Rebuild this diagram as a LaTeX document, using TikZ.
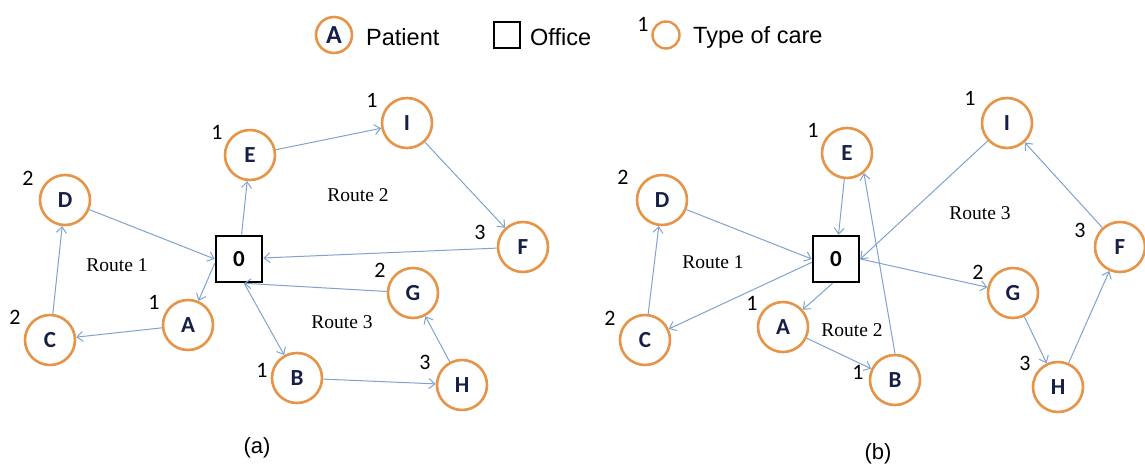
\documentclass[tikz,border=0pt]{standalone}
\usepackage{fontspec}
\setmainfont{Liberation Sans}
\newfontfamily\calib{Carlito}
\newfontfamily\timesf{Liberation Serif}
\usetikzlibrary{arrows.meta}
\definecolor{ring}{RGB}{230,148,72}
\definecolor{edgeblue}{RGB}{128,162,205}
\definecolor{navy}{RGB}{22,32,70}

\begin{document}
\begin{tikzpicture}[x=1pt,y=-1pt,
  site/.style={circle, draw=ring, line width=2.6pt, fill=white, minimum size=50pt,
    inner sep=0pt, text=navy, font=\calib\bfseries\fontsize{23}{23}\selectfont},
  office/.style={rectangle, draw=black, line width=2.6pt, fill=white, minimum size=46pt,
    inner sep=0pt, font=\calib\bfseries\fontsize{23}{23}\selectfont},
  care/.style={inner sep=0pt, font=\calib\fontsize{22}{22}\selectfont},
  route/.style={inner sep=0pt, font=\timesf\fontsize{19.5}{19.5}\selectfont},
  legend/.style={inner sep=0pt, font=\fontsize{23.5}{23.5}\selectfont},
  panel/.style={inner sep=0pt, font=\fontsize{22}{22}\selectfont},
  link/.style={draw=edgeblue, line width=1pt, -{Straight Barb[length=6pt,width=10pt]}}]

\useasboundingbox (0,0) rectangle (1145,470);

% ---------- legend ----------
\node[site, minimum size=36pt, font=\calib\bfseries\fontsize{26}{26}\selectfont] (legA) at (334,35) {A};
\node[legend, anchor=west] (legPatient) at (366,37) {Patient};
\node[office, minimum size=26pt, line width=2.4pt] (legO) at (507,35) {};
\node[legend, anchor=west] (legOffice) at (530,37) {Office};
\node[care] (legOne) at (643,24) {1};
\node[circle, draw=ring, line width=2.4pt, minimum size=27pt, inner sep=0pt] (legC) at (666,35) {};
\node[legend, anchor=west] (legCare) at (693,37) {Type of care};

% ---------- panel (a) ----------
\node[office] (aO) at (239,259) {0};
\node[site] (aA) at (188,325) {A};
\node[site] (aB) at (297,378) {B};
\node[site] (aC) at (50,340) {C};
\node[site] (aD) at (65,200) {D};
\node[site] (aE) at (250,155) {E};
\node[site] (aF) at (523,247) {F};
\node[site] (aG) at (413,293) {G};
\node[site] (aH) at (462,385) {H};
\node[site] (aI) at (407,123) {I};

\node[care] (aAn) at (154,302) {1};
\node[care] (aBn) at (262,370) {1};
\node[care] (aCn) at (15,317) {2};
\node[care] (aDn) at (28,178) {2};
\node[care] (aEn) at (217,132) {1};
\node[care] (aFn) at (480,232) {3};
\node[care] (aGn) at (380,270) {2};
\node[care] (aHn) at (425,362) {3};
\node[care] (aIn) at (372,100) {1};

\node[route] (aR1) at (117,265) {Route 1};
\node[route] (aR2) at (358,195) {Route 2};
\node[route] (aR3) at (342,322) {Route 3};

% route 1: 0 - A - C - D - 0
\draw[link] (aO.190) -- (aA);
\draw[link] (aA) -- (aC);
\draw[link] (aC) -- (aD);
\draw[link] (aD) -- (aO.west);
% route 2: 0 - E - I - F - 0
\draw[link] (aO) -- (aE);
\draw[link] (aE) -- (aI);
\draw[link] (aI) -- (aF);
\draw[link] (aF) -- (aO);
% route 3: 0 - B - H - G - 0
\draw[link] (aO.-78) -- (aB);
\draw[link] (aB) -- (aH);
\draw[link] (aH) -- (aG);
\draw[link] (aG) -- (aO.-78);

\node[panel] (capA) at (257,448) {(a)};

% ---------- panel (b) ----------
\node[office] (bO) at (836,259) {0};
\node[site] (bA) at (783,327) {A};
\node[site] (bB) at (895,380) {B};
\node[site] (bC) at (645,340) {C};
\node[site] (bD) at (662,200) {D};
\node[site] (bE) at (847,153) {E};
\node[site] (bF) at (1120,247) {F};
\node[site] (bG) at (1013,293) {G};
\node[site] (bH) at (1058,387) {H};
\node[site] (bI) at (1007,123) {I};

\node[care] (bAn) at (752,303) {1};
\node[care] (bBn) at (858,372) {1};
\node[care] (bCn) at (610,318) {2};
\node[care] (bDn) at (623,177) {2};
\node[care] (bEn) at (813,130) {1};
\node[care] (bFn) at (1080,230) {3};
\node[care] (bGn) at (978,272) {2};
\node[care] (bHn) at (1025,363) {3};
\node[care] (bIn) at (970,98) {1};

\node[route] (bR1) at (713,262) {Route 1};
\node[route] (bR2) at (852,330) {Route 2};
\node[route] (bR3) at (980,213) {Route 3};

% route 1: 0 - C - D - 0
\draw[link] (bO.188) -- (bC);
\draw[link] (bC) -- (bD);
\draw[link] (bD) -- (bO.west);
% route 2: 0 - A - B - E - 0
\draw[link] (bO.-98) -- (bA);
\draw[link] (bA) -- (bB);
\draw[link] (bB.north) -- (bE.-50);
\draw[link] (bE) -- (bO);
% route 3: 0 - G - H - F - I - 0
\draw[link] (bO.east) -- (bG);
\draw[link] (bG) -- (bH);
\draw[link] (bH) -- (bF);
\draw[link] (bF) -- (bI);
\draw[link] (bI) -- (bO.east);

\node[panel] (capB) at (878,454) {(b)};
\end{tikzpicture}
\end{document}
